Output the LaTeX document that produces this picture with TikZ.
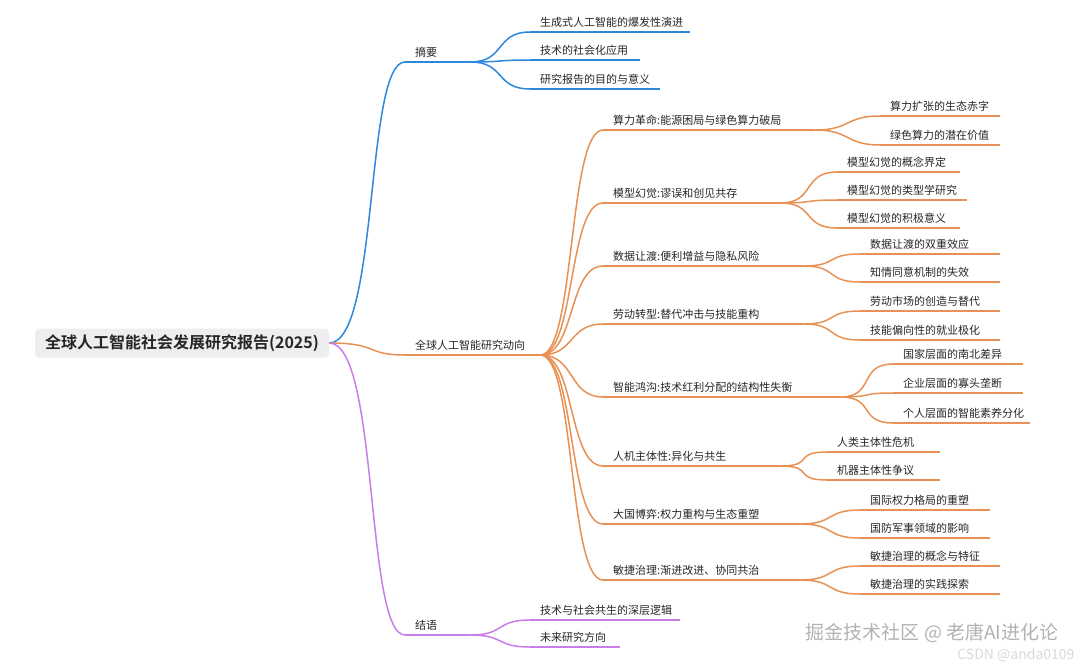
\documentclass[tikz,border=0pt]{standalone}
\usepackage{fontspec}
\setmainfont{Noto Sans CJK SC}[BoldFont={Noto Sans CJK SC Bold}]
\definecolor{mapblue}{RGB}{45,135,220}
\definecolor{maporange}{RGB}{232,145,85}
\definecolor{mappurple}{RGB}{200,125,232}
\definecolor{rootgray}{RGB}{238,238,238}
\tikzset{
  root/.style={rectangle,fill=rootgray,rounded corners=4pt,inner xsep=10pt,inner ysep=6pt,font=\fontsize{16}{18}\selectfont\bfseries,text=black!85},
  topic/.style={rectangle,anchor=south west,inner xsep=10pt,inner ysep=4pt,align=left,font=\fontsize{11}{13}\selectfont,text=black!85},
  link/.style={line width=1.5pt},
}
% \topic{name}{x}{y}{width}{colour}{text}
\newcommand{\topic}[6]{%
  \pgfmathsetmacro\tw{#4-20}
  \node[topic,text width=\tw pt] (#1) at (#2,#3) {#6};
  \draw[link,#5] (#1.south west) -- (#1.south east);
}
\newcommand{\branch}[3]{%
  \draw[link,#1] (#2.south east) .. controls +(35,0) and +(-35,0) .. (#3.south west);
}
\begin{document}
\begin{tikzpicture}[x=1pt,y=-1pt]
\useasboundingbox (0,0) rectangle (1080,667);
\node[root] (R) at (182,343) {全球人工智能社会发展研究报告(2025)};
% level 1
\topic{abs}{405}{62}{65}{mapblue}{摘要}
\topic{trend}{405}{355}{135}{maporange}{全球人工智能研究动向}
\topic{end}{405}{635}{65}{mappurple}{结语}
\foreach \n/\c in {abs/mapblue,trend/maporange,end/mappurple}
  {\draw[link,\c] (R.east) .. controls +(50,0) and +(-40,0) .. (\n.south west);}
% abstract
\topic{a1}{530}{32}{160}{mapblue}{生成式人工智能的爆发性演进}
\topic{a2}{530}{60}{110}{mapblue}{技术的社会化应用}
\topic{a3}{530}{89}{130}{mapblue}{研究报告的目的与意义}
\foreach \n in {a1,a2,a3} {\branch{mapblue}{abs}{\n}}
% trends
\topic{t1}{603}{130}{212}{maporange}{算力革命:能源困局与绿色算力破局}
\topic{t2}{603}{203}{177}{maporange}{模型幻觉:谬误和创见共存}
\topic{t3}{603}{266}{200}{maporange}{数据让渡:便利增益与隐私风险}
\topic{t4}{603}{324}{200}{maporange}{劳动转型:替代冲击与技能重构}
\topic{t5}{603}{397}{237}{maporange}{智能鸿沟:技术红利分配的结构性失衡}
\topic{t6}{603}{466}{177}{maporange}{人机主体性:异化与共生}
\topic{t7}{603}{524}{197}{maporange}{大国博弈:权力重构与生态重塑}
\topic{t8}{603}{580}{197}{maporange}{敏捷治理:渐进改进、协同共治}
\foreach \n in {t1,t2,t3,t4,t5,t6,t7,t8} {\branch{maporange}{trend}{\n}}
\topic{t11}{880}{116}{120}{maporange}{算力扩张的生态赤字}
\topic{t12}{880}{145}{120}{maporange}{绿色算力的潜在价值}
\topic{t21}{837}{172}{123}{maporange}{模型幻觉的概念界定}
\topic{t22}{837}{200}{130}{maporange}{模型幻觉的类型学研究}
\topic{t23}{837}{228}{123}{maporange}{模型幻觉的积极意义}
\topic{t31}{860}{254}{140}{maporange}{数据让渡的双重效应}
\topic{t32}{860}{282}{140}{maporange}{知情同意机制的失效}
\topic{t41}{860}{311}{140}{maporange}{劳动市场的创造与替代}
\topic{t42}{860}{340}{140}{maporange}{技能偏向性的就业极化}
\topic{t51}{893}{364}{130}{maporange}{国家层面的南北差异}
\topic{t52}{893}{393}{130}{maporange}{企业层面的寡头垄断}
\topic{t53}{893}{423}{137}{maporange}{个人层面的智能素养分化}
\topic{t61}{827}{452}{113}{maporange}{人类主体性危机}
\topic{t62}{827}{480}{113}{maporange}{机器主体性争议}
\topic{t71}{860}{510}{130}{maporange}{国际权力格局的重塑}
\topic{t72}{860}{538}{130}{maporange}{国防军事领域的影响}
\topic{t81}{860}{566}{140}{maporange}{敏捷治理的概念与特征}
\topic{t82}{860}{594}{140}{maporange}{敏捷治理的实践探索}
\foreach \p/\n in {t1/t11,t1/t12,t2/t21,t2/t22,t2/t23,t3/t31,t3/t32,t4/t41,t4/t42,t5/t51,t5/t52,t5/t53,t6/t61,t6/t62,t7/t71,t7/t72,t8/t81,t8/t82}
  {\branch{maporange}{\p}{\n}}
% conclusion
\topic{e1}{530}{620}{150}{mappurple}{技术与社会共生的深层逻辑}
\topic{e2}{530}{647}{90}{mappurple}{未来研究方向}
\foreach \n in {e1,e2} {\branch{mappurple}{end}{\n}}
% watermarks
\node[anchor=east,font=\fontsize{19}{21}\selectfont,text=white!40!gray] (wm1) at (1062,633) {掘金技术社区 @ 老唐AI进化论};
\node[anchor=east,font=\fontsize{14}{16}\selectfont,text=white!70!gray] (wm2) at (1078,655) {CSDN @anda0109};
\end{tikzpicture}
\end{document}
